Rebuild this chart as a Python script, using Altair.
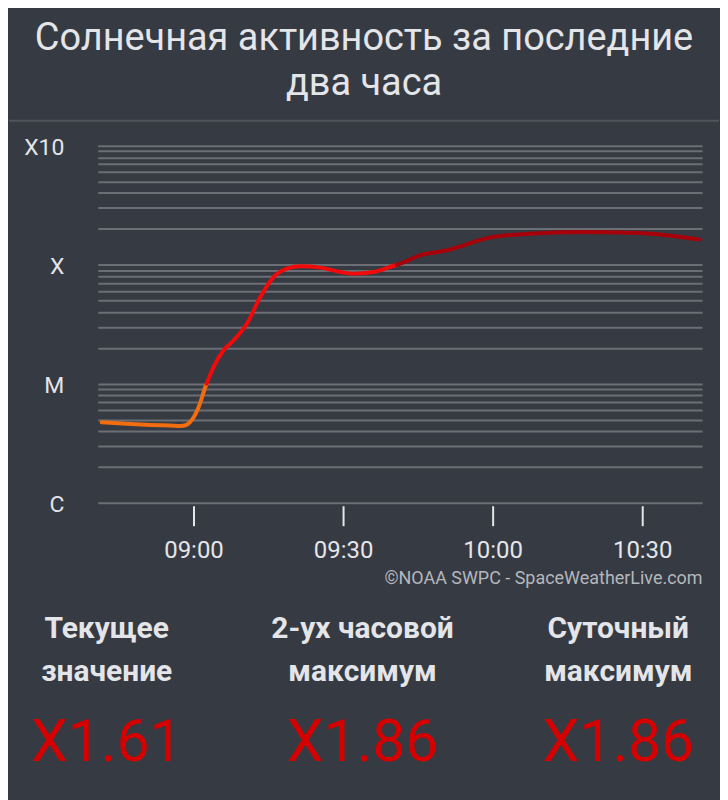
import altair as alt
import pandas as pd
import math

# ---- data ----
times = ["08:41:36", "08:47:24", "08:51:24", "08:55:24", "08:57:24", "08:58:24", "08:59:24",
         "09:01:04", "09:02:24", "09:04:04", "09:06:04", "09:08:04", "09:10:44", "09:13:24",
         "09:16:04", "09:18:44", "09:21:24", "09:25:24", "09:29:24", "09:32:04", "09:36:04",
         "09:39:24", "09:41:44", "09:45:24", "09:50:44", "09:59:24", "10:07:24", "10:17:24",
         "10:29:24", "10:35:24", "10:41:24"]
flux = [4.74e-6, 4.59e-6, 4.51e-6, 4.45e-6, 4.42e-6, 4.48e-6, 4.80e-6,
        6.41e-6, 9.44e-6, 1.39e-5, 1.92e-5, 2.32e-5, 3.21e-5, 5.36e-5,
        7.88e-5, 9.27e-5, 9.70e-5, 9.46e-5, 8.69e-5, 8.42e-5, 8.69e-5,
        9.57e-5, 1.03e-4, 1.20e-4, 1.32e-4, 1.69e-4, 1.82e-4, 1.88e-4,
        1.85e-4, 1.76e-4, 1.63e-4]

class_names = ["C", "M", "X"]
class_colors = ["#f26c10", "#f00a0a", "#a8000a"]
class_limits = [1e-5, 1e-4]

y_ticks = [m * 10.0 ** e for e in (-6, -5, -4) for m in range(1, 10)] + [1e-3]
x_ticks = ["09:00", "09:30", "10:00", "10:30"]

stat_heads = ["Текущее\nзначение", "2-ух часовой\nмаксимум", "Суточный\nмаксимум"]
stat_values = ["X1.61", "X1.86", "X1.86"]

title_lines = ["Солнечная активность за последние", "два часа"]
credit = "©NOAA SWPC - SpaceWeatherLive.com"

DAY = "2024-01-01T"
BG = "#363a42"
TXT = "#e4e5e8"
FONT = "Roboto"

# ---- build segmented series (shared boundary points so segments join) ----
def cls_of(v):
    if v < class_limits[0]:
        return "C"
    if v < class_limits[1]:
        return "M"
    return "X"

ts = [pd.Timestamp(DAY + t) for t in times]
rows = []
for i, (t, v) in enumerate(zip(ts, flux)):
    c = cls_of(v)
    rows.append({"t": t, "v": v, "cls": c})
    if i + 1 < len(flux):
        c2 = cls_of(flux[i + 1])
        if c2 != c:
            lim = class_limits[class_names.index(c)]
            a, b = math.log10(v), math.log10(flux[i + 1])
            f = (math.log10(lim) - a) / (b - a)
            tb = t + (ts[i + 1] - t) * f
            rows.append({"t": tb, "v": lim, "cls": c})
            rows.append({"t": tb, "v": lim, "cls": c2})
df = pd.DataFrame(rows)
df["t"] = df["t"].dt.strftime("%Y-%m-%dT%H:%M:%S")

label_expr = ("datum.value < 1.05e-6 ? 'C' : (datum.value > 0.99e-5 && datum.value < 1.01e-5) ? 'M' : "
              "(datum.value > 0.99e-4 && datum.value < 1.01e-4) ? 'X' : datum.value > 0.99e-3 ? 'X10' : ''")

W, H = 606, 358

line = alt.Chart(df).mark_line(strokeWidth=4, interpolate="monotone", strokeCap="round").encode(
    x=alt.X("t:T",
            scale=alt.Scale(domain=[DAY + "08:40:48", DAY + "10:42:00"]),
            axis=alt.Axis(values=[DAY + x + ":00" for x in x_ticks], format="%H:%M",
                          grid=False, domain=False, offset=3,
                          tickColor=TXT, tickWidth=2, tickSize=20,
                          labelColor=TXT, labelFontSize=24, labelFont=FONT, labelPadding=13,
                          title=credit, titleAnchor="end", titleAlign="right",
                          titleFont=FONT, titleFontSize=18, titleFontWeight="normal",
                          titleColor="#b4b7bd", titlePadding=7)),
    y=alt.Y("v:Q",
            scale=alt.Scale(type="log", domain=[1e-6, 1e-3], nice=False),
            axis=alt.Axis(values=y_ticks, labelExpr=label_expr, title=None,
                          grid=True, gridColor="#6b6e74", gridWidth=2,
                          domain=False, ticks=False, labelOffset=2,
                          labelColor=TXT, labelFontSize=23, labelFont=FONT, labelPadding=34)),
    color=alt.Color("cls:N", scale=alt.Scale(domain=class_names, range=class_colors), legend=None),
    detail="cls:N",
)

sep = alt.Chart(pd.DataFrame({"k": [0]})).mark_rule(color="#50545b", strokeWidth=2).encode(
    x=alt.value(-89), x2=alt.value(W + 17), y=alt.value(-25)
)

top = alt.layer(sep, line).properties(
    width=W, height=H,
    title=alt.TitleParams(title_lines, fontSize=38, font=FONT, fontWeight="normal",
                          color=TXT, anchor="middle", frame="bounds", lineHeight=45, offset=17),
)

sdf = pd.DataFrame({"col": [0, 1, 2], "head": stat_heads, "val": stat_values})
base = alt.Chart(sdf).encode(
    x=alt.X("col:Q", scale=alt.Scale(domain=[-0.0351, 2.3275]), axis=None)
)
heads = base.mark_text(fontSize=30, fontWeight="bold", font=FONT, color=TXT, lineBreak="\n",
                       lineHeight=43, baseline="alphabetic", align="center").encode(
    text="head:N", y=alt.value(45))
vals = base.mark_text(fontSize=59, fontWeight="normal", font=FONT, color="#d60000",
                      baseline="alphabetic", align="center").encode(
    text="val:N", y=alt.value(168))
stats = alt.layer(heads, vals).properties(width=W, height=216)

chart = alt.vconcat(top, stats, spacing=6).properties(
    background=BG, padding={"left": 0, "top": 11, "right": 0, "bottom": 0}
).configure_view(stroke=None).configure_concat(spacing=6)

chart.save("out.html", embed_options={"renderer": "svg", "actions": False})
